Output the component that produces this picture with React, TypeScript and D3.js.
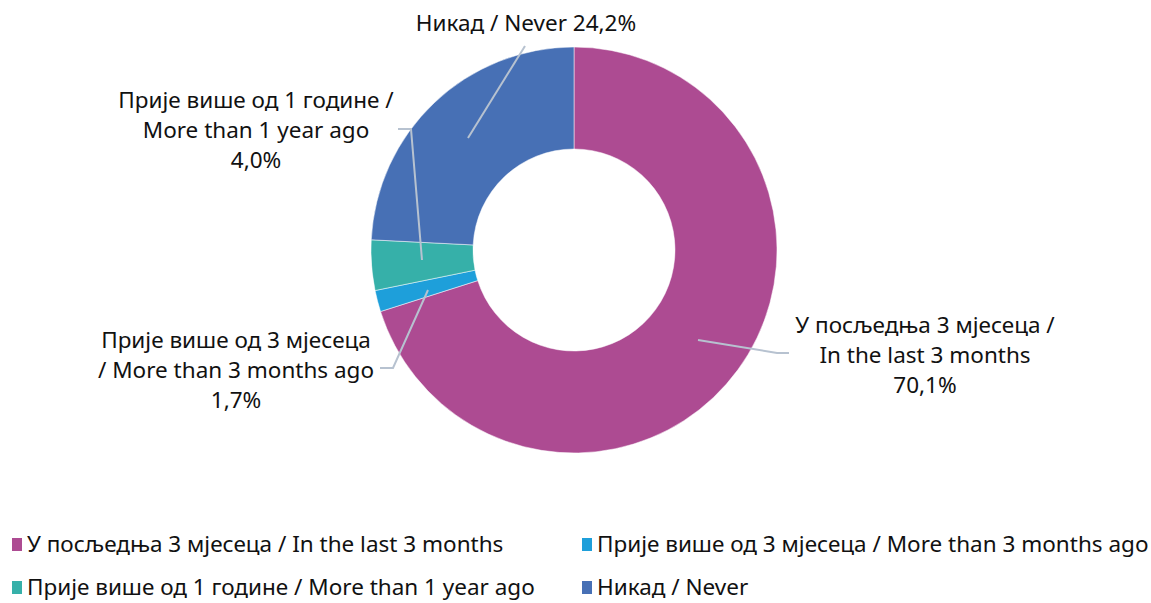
import React from "react";
import * as d3 from "d3";

const categories = [
  "У посљедња 3 мјесеца / In the last 3 months",
  "Прије више од 3 мјесеца / More than 3 months ago",
  "Прије више од 1 године / More than 1 year ago",
  "Никад / Never",
];
const values = [70.1, 1.7, 4.0, 24.2];
const valueLabels = ["70,1%", "1,7%", "4,0%", "24,2%"];
const colors = ["#AD4B92", "#1E9FDA", "#36B0A9", "#4770B5"];
const labelLines = [
  ["У посљедња 3 мјесеца /", "In the last 3 months", valueLabels[0]],
  ["Прије више од 3 мјесеца", "/ More than 3 months ago", valueLabels[1]],
  ["Прије више од 1 године /", "More than 1 year ago", valueLabels[2]],
  ["Никад / Never " + valueLabels[3]],
];

const W = 1151;
const H = 603;
const cx = 574;
const cy = 250;
const R = 203;
const r = 101;
const FONT = "'Noto Sans', sans-serif";

// label anchor configuration (layout)
const labelPos = [
  { x: 925, y: 333, line: [[698, 340], [777, 353], [789, 353]] },
  { x: 236, y: 348, line: [[428, 290], [393, 368], [380, 368]] },
  { x: 256, y: 108, line: [[422, 260], [411, 129], [398, 129]] },
  { x: 526, y: 31, line: [[468, 138], [525, 46]] },
];

export default function App() {
  const pie = d3.pie<number>().sort(null).value((d) => d);
  const arcs = pie(values);
  const arc = d3.arc<d3.PieArcDatum<number>>().innerRadius(r).outerRadius(R);
  const line = d3.line();
  return (
    <svg width={W} height={H} style={{ position: "absolute", left: 0, top: 0 }}>
      <rect width={W} height={H} fill="#fff" />
      <g transform={`translate(${cx},${cy})`}>
        {arcs.map((a, i) => (
          <path key={i} d={arc(a) || ""} fill={colors[i]} stroke="#fff" strokeWidth={0.5} />
        ))}
      </g>
      {labelPos.map((p, i) => (
        <g key={i}>
          <path d={line(p.line as [number, number][]) || ""} fill="none" stroke="#B7C2D0" strokeWidth={2} />
          <text x={p.x} y={p.y} textAnchor="middle" fontFamily={FONT} fontSize={22.5} fill="#111">
            {labelLines[i].map((t, j) => (
              <tspan key={j} x={p.x} dy={j === 0 ? 0 : 30}>{t}</tspan>
            ))}
          </text>
        </g>
      ))}
      {categories.map((c, i) => {
        const col = i % 2;
        const row = Math.floor(i / 2);
        const lx = col === 0 ? 12 : 582;
        const ly = row === 0 ? 552 : 595;
        return (
          <g key={c}>
            <rect x={lx} y={ly - 14} width={10} height={13} fill={colors[i]} />
            <text x={lx + 15} y={ly} fontFamily={FONT} fontSize={22.5} fill="#111">{c}</text>
          </g>
        );
      })}
    </svg>
  );
}
